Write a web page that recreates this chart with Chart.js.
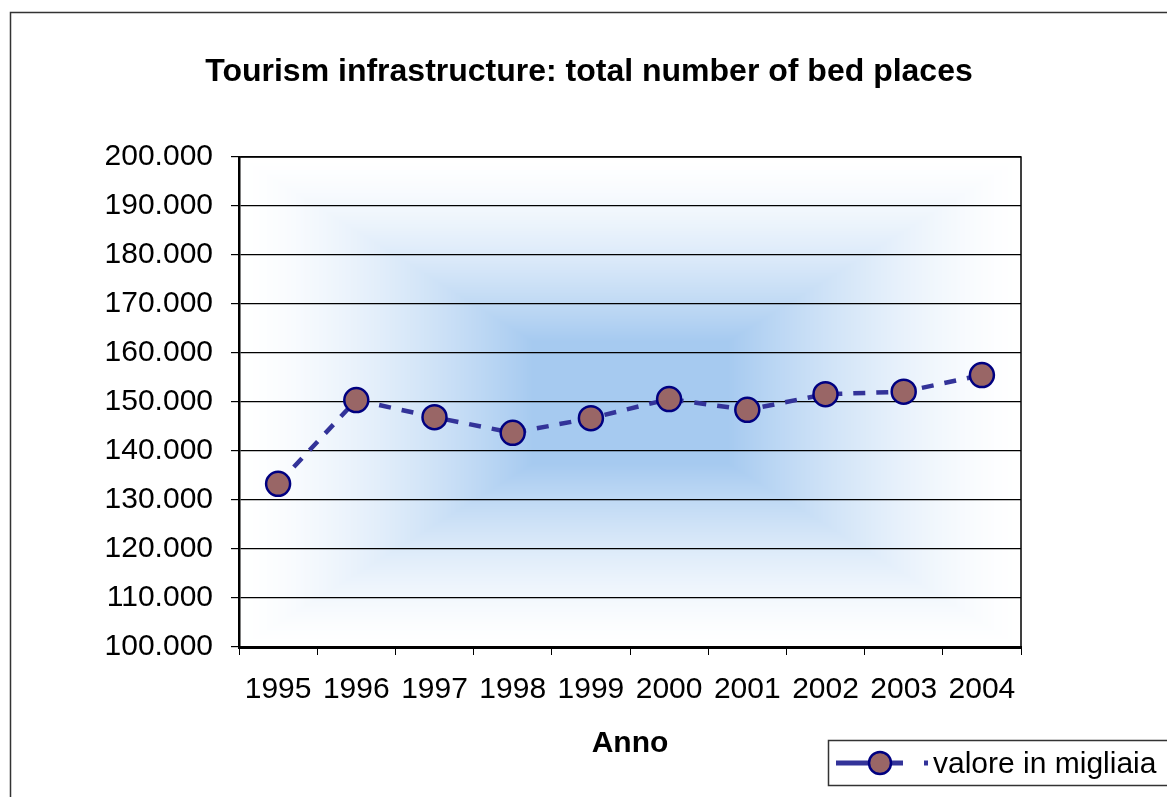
<!DOCTYPE html>
<html>
<head>
<meta charset="utf-8">
<script src="https://cdn.jsdelivr.net/npm/chart.js@4"></script>
<style>
  body { margin: 0; background: #fff; }
  #wrap { width: 1167px; height: 797px; }
</style>
</head>
<body>
<div id="wrap"><canvas id="grafico" width="1167" height="797"></canvas></div>
<script>
const anni = ['1995', '1996', '1997', '1998', '1999', '2000', '2001', '2002', '2003', '2004'];
const valori = [133300, 150400, 146900, 143700, 146700, 150600, 148400, 151600, 152100, 155500];
const yMin = 100000;
const yMax = 200000;
const yStep = 10000;

const titolo = 'Tourism infrastructure: total number of bed places';
const titoloX = 'Anno';
const nomeSerie = 'valore in migliaia';

const FONT = 'Arial, "Liberation Sans", sans-serif';

function formatta(v) {
    return v.toString().replace(/\B(?=(\d{3})+(?!\d))/g, '.');
}

// sfondo sfumato dal centro + testi + legenda
const decorazioni = {
    id: 'decorazioni',
    beforeDraw(chart) {
        const ctx = chart.ctx;
        const a = chart.chartArea;
        const w = Math.round(a.right - a.left);
        const h = Math.round(a.bottom - a.top);
        const off = document.createElement('canvas');
        off.width = w; off.height = h;
        const octx = off.getContext('2d');
        const img = octx.createImageData(w, h);
        const c = [166, 202, 240];
        for (let y = 0; y < h; y++) {
            for (let x = 0; x < w; x++) {
                const t = Math.max(Math.abs(x - w / 2) / (w / 2), Math.abs(y - h / 2) / (h / 2));
                let f = (1 - t) / 0.75;
                f = Math.pow(Math.max(0, Math.min(1, f)), 1.5);
                const i = (y * w + x) * 4;
                img.data[i] = 255 + (c[0] - 255) * f;
                img.data[i + 1] = 255 + (c[1] - 255) * f;
                img.data[i + 2] = 255 + (c[2] - 255) * f;
                img.data[i + 3] = 255;
            }
        }
        octx.putImageData(img, 0, 0);
        ctx.save();
        ctx.fillStyle = '#fff';
        ctx.fillRect(0, 0, chart.width, chart.height);
        ctx.drawImage(off, a.left, a.top);
        // bordo esterno
        ctx.strokeStyle = '#333';
        ctx.lineWidth = 1.5;
        ctx.strokeRect(10.5, 12.5, 1200, 900);
        ctx.restore();
    },
    beforeDatasetsDraw(chart) {
        const ctx = chart.ctx;
        const a = chart.chartArea;
        ctx.save();
        ctx.strokeStyle = '#000';
        ctx.lineWidth = 1.5;
        ctx.strokeRect(a.left, a.top, a.right - a.left, a.bottom - a.top);
        ctx.restore();
    },
    afterDraw(chart) {
        const ctx = chart.ctx;
        const a = chart.chartArea;
        ctx.save();
        ctx.fillStyle = '#000';
        ctx.textAlign = 'center';
        ctx.textBaseline = 'middle';
        ctx.font = 'bold 32px ' + FONT;
        ctx.fillText(titolo, 589, 72);
        ctx.font = 'bold 30px ' + FONT;
        ctx.fillText(titoloX, (a.left + a.right) / 2, 744);

        // legenda
        ctx.fillStyle = '#fff';
        ctx.fillRect(828, 740, 400, 45);
        ctx.strokeStyle = '#333';
        ctx.lineWidth = 1.5;
        ctx.strokeRect(828.5, 740.5, 400, 45);
        ctx.strokeStyle = '#333399';
        ctx.lineWidth = 5;
        ctx.beginPath();
        ctx.moveTo(836, 763); ctx.lineTo(903, 763);
        ctx.moveTo(924, 763); ctx.lineTo(928, 763);
        ctx.stroke();
        ctx.beginPath();
        ctx.arc(880, 763, 11, 0, Math.PI * 2);
        ctx.fillStyle = '#996666';
        ctx.fill();
        ctx.strokeStyle = '#000080';
        ctx.lineWidth = 2.5;
        ctx.stroke();
        ctx.fillStyle = '#000';
        ctx.textAlign = 'left';
        ctx.font = '30px ' + FONT;
        ctx.fillText(nomeSerie, 933, 765);
        ctx.restore();
    }
};

Chart.defaults.font.family = FONT;
Chart.defaults.color = '#000';

const config = {
    type: 'line',
    data: {
        labels: anni,
        datasets: [{
            label: nomeSerie,
            data: valori,
            borderColor: '#333399',
            borderWidth: 4.5,
            borderDash: [12, 11],
            pointRadius: 12,
            pointHoverRadius: 12,
            pointBackgroundColor: '#996666',
            pointBorderColor: '#000080',
            pointBorderWidth: 2.5,
            tension: 0,
            clip: false
        }]
    },
    options: {
        responsive: false,
        animation: false,
        layout: { padding: { left: 0, top: 157, right: 146, bottom: 50 } },
        plugins: {
            legend: { display: false },
            title: { display: false },
            tooltip: { enabled: false }
        },
        scales: {
            x: {
                offset: true,
                grid: {
                    offset: true,
                    drawOnChartArea: false,
                    drawTicks: true,
                    tickLength: 8,
                    color: '#000',
                    lineWidth: 1
                },
                border: { color: '#000', width: 3 },
                ticks: { font: { size: 30 }, padding: 17, maxRotation: 0, autoSkip: false },
                afterFit(scale) { scale.height = 100; }
            },
            y: {
                min: yMin,
                max: yMax,
                grid: { color: '#000', lineWidth: 1.2, tickLength: 8 },
                border: { color: '#000', width: 2.5 },
                ticks: {
                    stepSize: yStep,
                    font: { size: 30 },
                    padding: 18,
                    callback: function (v) { return formatta(v); }
                },
                afterFit(scale) { scale.width = 239; }
            }
        }
    },
    plugins: [decorazioni]
};

let myChart = new Chart(document.getElementById('grafico'), config);
</script>
</body>
</html>
